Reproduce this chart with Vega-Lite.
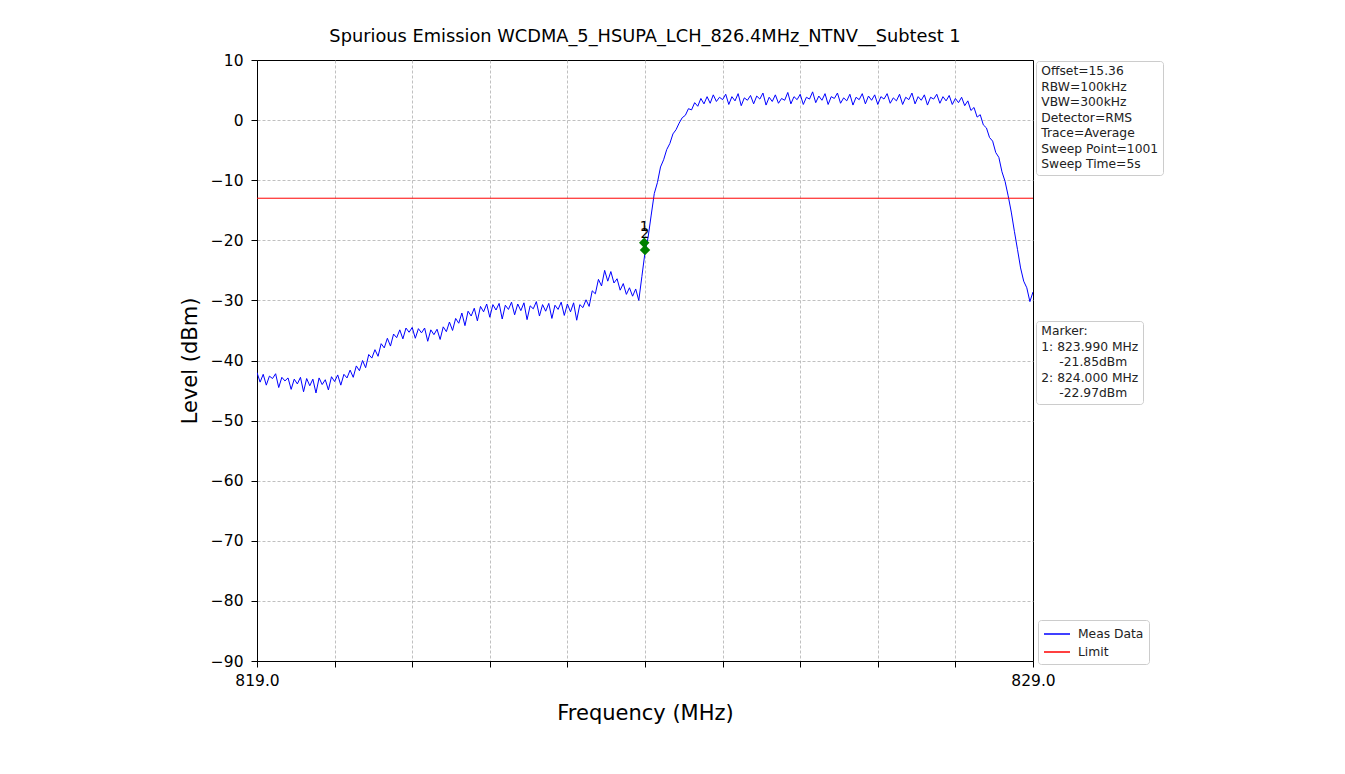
{
  "$schema": "https://vega.github.io/schema/vega-lite/v6.json",
  "width": 776,
  "height": 601,
  "autosize": {"type": "none"},
  "padding": {"left": 257, "top": 60, "right": 312, "bottom": 113},
  "background": "white",
  "title": {"text": "Spurious Emission WCDMA_5_HSUPA_LCH_826.4MHz_NTNV__Subtest 1", "fontSize": 17.8, "fontWeight": "normal", "font": "DejaVu Sans", "color": "black", "offset": 7},
  "config": {
    "font": "DejaVu Sans",
    "view": {"stroke": "black", "strokeWidth": 1},
    "axis": {"labelFont": "DejaVu Sans", "titleFont": "DejaVu Sans", "labelFontSize": 15.5, "titleFontSize": 21, "titleFontWeight": "normal", "labelColor": "black", "titleColor": "black", "tickColor": "black", "domainColor": "black", "tickSize": 6, "grid": true, "gridColor": "#b0b0b0", "gridDash": [3, 2], "gridWidth": 0.8, "labelOverlap": false, "labelFlush": false},
    "legend": {"labelFont": "DejaVu Sans", "labelFontSize": 12.3, "labelColor": "#222", "strokeColor": "#cccccc", "fillColor": "white", "cornerRadius": 3, "padding": 4, "orient": "none"}
  },
  "datasets": {
    "trace": [
      {"f":819.00,"level":-42.0},{"f":819.04,"level":-43.6},{"f":819.08,"level":-42.3},{"f":819.12,"level":-44.1},{"f":819.16,"level":-42.6},
      {"f":819.20,"level":-43.0},{"f":819.24,"level":-42.2},{"f":819.28,"level":-44.5},{"f":819.32,"level":-42.8},{"f":819.36,"level":-43.4},
      {"f":819.40,"level":-42.9},{"f":819.44,"level":-44.8},{"f":819.48,"level":-43.1},{"f":819.52,"level":-43.9},{"f":819.56,"level":-42.8},
      {"f":819.60,"level":-45.2},{"f":819.64,"level":-43.0},{"f":819.68,"level":-44.2},{"f":819.72,"level":-43.1},{"f":819.76,"level":-45.4},
      {"f":819.80,"level":-42.9},{"f":819.84,"level":-44.0},{"f":819.88,"level":-43.2},{"f":819.92,"level":-44.9},{"f":819.96,"level":-42.7},
      {"f":820.00,"level":-43.5},{"f":820.04,"level":-42.4},{"f":820.08,"level":-44.1},{"f":820.12,"level":-42.3},{"f":820.16,"level":-42.9},
      {"f":820.20,"level":-41.6},{"f":820.24,"level":-42.8},{"f":820.28,"level":-40.9},{"f":820.32,"level":-41.7},{"f":820.36,"level":-40.0},
      {"f":820.40,"level":-41.2},{"f":820.44,"level":-39.0},{"f":820.48,"level":-39.6},{"f":820.52,"level":-38.2},{"f":820.56,"level":-39.3},
      {"f":820.60,"level":-37.2},{"f":820.64,"level":-37.9},{"f":820.68,"level":-36.3},{"f":820.72,"level":-37.6},{"f":820.76,"level":-35.6},
      {"f":820.80,"level":-36.2},{"f":820.84,"level":-34.9},{"f":820.88,"level":-36.4},{"f":820.92,"level":-34.6},{"f":820.96,"level":-35.3},
      {"f":821.00,"level":-34.5},{"f":821.04,"level":-36.3},{"f":821.08,"level":-34.7},{"f":821.12,"level":-35.4},{"f":821.16,"level":-34.6},
      {"f":821.20,"level":-36.8},{"f":821.24,"level":-34.9},{"f":821.28,"level":-35.7},{"f":821.32,"level":-34.8},{"f":821.36,"level":-36.5},
      {"f":821.40,"level":-34.4},{"f":821.44,"level":-35.2},{"f":821.48,"level":-33.6},{"f":821.52,"level":-35.0},{"f":821.56,"level":-33.0},
      {"f":821.60,"level":-33.8},{"f":821.64,"level":-32.1},{"f":821.68,"level":-34.2},{"f":821.72,"level":-31.8},{"f":821.76,"level":-32.6},
      {"f":821.80,"level":-31.3},{"f":821.84,"level":-33.4},{"f":821.88,"level":-31.0},{"f":821.92,"level":-31.9},{"f":821.96,"level":-30.6},
      {"f":822.00,"level":-32.8},{"f":822.04,"level":-30.7},{"f":822.08,"level":-31.6},{"f":822.12,"level":-30.5},{"f":822.16,"level":-33.1},
      {"f":822.20,"level":-30.8},{"f":822.24,"level":-31.5},{"f":822.28,"level":-30.3},{"f":822.32,"level":-32.4},{"f":822.36,"level":-30.6},
      {"f":822.40,"level":-31.7},{"f":822.44,"level":-30.4},{"f":822.48,"level":-33.2},{"f":822.52,"level":-30.9},{"f":822.56,"level":-31.4},
      {"f":822.60,"level":-30.2},{"f":822.64,"level":-32.6},{"f":822.68,"level":-30.7},{"f":822.72,"level":-31.8},{"f":822.76,"level":-30.5},
      {"f":822.80,"level":-33.0},{"f":822.84,"level":-30.8},{"f":822.88,"level":-31.5},{"f":822.92,"level":-30.3},{"f":822.96,"level":-32.5},
      {"f":823.00,"level":-30.6},{"f":823.04,"level":-31.9},{"f":823.08,"level":-30.4},{"f":823.12,"level":-33.3},{"f":823.16,"level":-30.7},
      {"f":823.20,"level":-31.2},{"f":823.24,"level":-29.9},{"f":823.28,"level":-31.0},{"f":823.32,"level":-28.4},{"f":823.36,"level":-28.9},
      {"f":823.40,"level":-26.5},{"f":823.44,"level":-27.6},{"f":823.48,"level":-25.0},{"f":823.52,"level":-26.8},{"f":823.56,"level":-25.2},
      {"f":823.60,"level":-27.1},{"f":823.64,"level":-26.4},{"f":823.68,"level":-28.3},{"f":823.72,"level":-27.2},{"f":823.76,"level":-29.0},
      {"f":823.80,"level":-27.9},{"f":823.84,"level":-29.3},{"f":823.88,"level":-28.1},{"f":823.92,"level":-30.0},{"f":823.96,"level":-26.0},
      {"f":824.00,"level":-22.0},{"f":824.04,"level":-19.5},{"f":824.08,"level":-15.8},{"f":824.12,"level":-12.2},{"f":824.16,"level":-10.4},
      {"f":824.20,"level":-7.8},{"f":824.24,"level":-6.6},{"f":824.28,"level":-4.9},{"f":824.32,"level":-3.9},{"f":824.36,"level":-2.3},
      {"f":824.40,"level":-1.6},{"f":824.44,"level":-0.5},{"f":824.48,"level":0.4},{"f":824.52,"level":0.8},{"f":824.56,"level":1.9},
      {"f":824.60,"level":1.7},{"f":824.64,"level":2.9},{"f":824.68,"level":2.3},{"f":824.72,"level":3.6},{"f":824.76,"level":2.7},
      {"f":824.80,"level":3.9},{"f":824.84,"level":2.8},{"f":824.88,"level":4.2},{"f":824.92,"level":3.1},{"f":824.96,"level":3.8},
      {"f":825.00,"level":3.4},{"f":825.04,"level":4.3},{"f":825.08,"level":2.6},{"f":825.12,"level":3.9},{"f":825.16,"level":3.2},
      {"f":825.20,"level":4.4},{"f":825.24,"level":2.4},{"f":825.28,"level":3.7},{"f":825.32,"level":3.3},{"f":825.36,"level":4.1},
      {"f":825.40,"level":2.7},{"f":825.44,"level":4.0},{"f":825.48,"level":3.5},{"f":825.52,"level":4.5},{"f":825.56,"level":2.5},
      {"f":825.60,"level":3.8},{"f":825.64,"level":3.1},{"f":825.68,"level":4.2},{"f":825.72,"level":2.8},{"f":825.76,"level":3.6},
      {"f":825.80,"level":3.3},{"f":825.84,"level":4.6},{"f":825.88,"level":2.7},{"f":825.92,"level":3.9},{"f":825.96,"level":3.4},
      {"f":826.00,"level":4.3},{"f":826.04,"level":2.6},{"f":826.08,"level":3.8},{"f":826.12,"level":3.5},{"f":826.16,"level":4.7},
      {"f":826.20,"level":2.9},{"f":826.24,"level":4.0},{"f":826.28,"level":3.3},{"f":826.32,"level":4.4},{"f":826.36,"level":2.6},
      {"f":826.40,"level":3.9},{"f":826.44,"level":3.6},{"f":826.48,"level":4.5},{"f":826.52,"level":2.8},{"f":826.56,"level":3.7},
      {"f":826.60,"level":3.2},{"f":826.64,"level":4.3},{"f":826.68,"level":2.5},{"f":826.72,"level":3.8},{"f":826.76,"level":3.4},
      {"f":826.80,"level":4.4},{"f":826.84,"level":2.7},{"f":826.88,"level":4.0},{"f":826.92,"level":3.3},{"f":826.96,"level":4.2},
      {"f":827.00,"level":2.6},{"f":827.04,"level":3.9},{"f":827.08,"level":3.5},{"f":827.12,"level":4.4},{"f":827.16,"level":2.8},
      {"f":827.20,"level":3.7},{"f":827.24,"level":3.2},{"f":827.28,"level":4.3},{"f":827.32,"level":2.6},{"f":827.36,"level":3.8},
      {"f":827.40,"level":3.4},{"f":827.44,"level":4.5},{"f":827.48,"level":2.7},{"f":827.52,"level":3.9},{"f":827.56,"level":3.3},
      {"f":827.60,"level":4.2},{"f":827.64,"level":2.5},{"f":827.68,"level":3.8},{"f":827.72,"level":3.5},{"f":827.76,"level":4.3},
      {"f":827.80,"level":2.8},{"f":827.84,"level":3.9},{"f":827.88,"level":3.2},{"f":827.92,"level":4.1},{"f":827.96,"level":2.6},
      {"f":828.00,"level":3.6},{"f":828.04,"level":2.9},{"f":828.08,"level":3.8},{"f":828.12,"level":2.4},{"f":828.16,"level":3.2},
      {"f":828.20,"level":1.6},{"f":828.24,"level":2.1},{"f":828.28,"level":0.5},{"f":828.32,"level":0.9},{"f":828.36,"level":-0.8},
      {"f":828.40,"level":-1.3},{"f":828.44,"level":-2.9},{"f":828.48,"level":-3.5},{"f":828.52,"level":-5.4},{"f":828.56,"level":-6.2},
      {"f":828.60,"level":-8.6},{"f":828.64,"level":-10.2},{"f":828.68,"level":-12.6},{"f":828.72,"level":-15.3},{"f":828.76,"level":-18.5},
      {"f":828.80,"level":-21.5},{"f":828.84,"level":-24.6},{"f":828.88,"level":-26.8},{"f":828.92,"level":-27.9},{"f":828.96,"level":-30.2},
      {"f":829.00,"level":-28.6}
    ],
    "limit": [{"limit": -13}],
    "markers": [{"id": "1", "f": 823.99, "level": -20.4}, {"id": "2", "f": 824.0, "level": -21.6}],
    "info": [{"line": "Offset=15.36"}, {"line": "RBW=100kHz"}, {"line": "VBW=300kHz"}, {"line": "Detector=RMS"}, {"line": "Trace=Average"}, {"line": "Sweep Point=1001"}, {"line": "Sweep Time=5s"}],
    "markerinfo": [{"line": "Marker:"}, {"line": "1: 823.990 MHz"}, {"line": "\u2800\u2800-21.85dBm"}, {"line": "2: 824.000 MHz"}, {"line": "\u2800\u2800-22.97dBm"}]
  },
  "layer": [
    {
      "data": {"name": "trace"},
      "mark": {"type": "line", "strokeWidth": 1, "clip": true},
      "encoding": {
        "x": {"field": "f", "type": "quantitative", "scale": {"domain": [819, 829], "nice": false, "zero": false},
          "axis": {"values": [819, 820, 821, 822, 823, 824, 825, 826, 827, 828, 829], "labelExpr": "datum.value == 819 || datum.value == 829 ? format(datum.value, '.1f') : ''", "title": "Frequency (MHz)", "titlePadding": 14, "labelPadding": 6,
            "gridOpacity": {"condition": {"test": "datum.value == 819 || datum.value == 829", "value": 0}, "value": 1}}},
        "y": {"field": "level", "type": "quantitative", "scale": {"domain": [-90, 10], "nice": false, "zero": false},
          "axis": {"values": [-90, -80, -70, -60, -50, -40, -30, -20, -10, 0, 10], "labelExpr": "replace(format(datum.value, 'd'), '-', '\u2212')", "title": "Level (dBm)", "titlePadding": 10, "labelPadding": 8,
            "gridOpacity": {"condition": {"test": "datum.value == 10 || datum.value == -90", "value": 0}, "value": 1}}},
        "color": {"datum": "Meas Data", "type": "nominal", "scale": {"domain": ["Meas Data", "Limit"], "range": ["#0000ff", "#ff0000"]},
          "legend": {"title": null, "legendX": 781, "legendY": 560, "symbolType": "M-1,0H2.25", "symbolSize": 256, "symbolStrokeWidth": 1.5, "labelOffset": 17, "rowPadding": 2, "padding": 5}}
      }
    },
    {
      "data": {"name": "limit"},
      "mark": {"type": "rule", "strokeWidth": 1},
      "encoding": {"y": {"field": "limit", "type": "quantitative"}, "color": {"datum": "Limit", "type": "nominal"}}
    },
    {
      "data": {"name": "markers"},
      "mark": {"type": "point", "shape": "diamond", "filled": true, "size": 110, "color": "#008000", "opacity": 1},
      "encoding": {"x": {"field": "f", "type": "quantitative"}, "y": {"field": "level", "type": "quantitative"}}
    },
    {
      "data": {"name": "markers"},
      "mark": {"type": "text", "dy": -16, "fontSize": 14, "color": "black", "font": "DejaVu Sans"},
      "encoding": {"x": {"field": "f", "type": "quantitative"}, "y": {"field": "level", "type": "quantitative"}, "text": {"field": "id"}}
    },
    {
      "data": {"name": "info"},
      "mark": {"type": "point", "opacity": 0},
      "encoding": {"shape": {"field": "line", "type": "nominal",
        "scale": {"domain": ["Offset=15.36", "RBW=100kHz", "VBW=300kHz", "Detector=RMS", "Trace=Average", "Sweep Point=1001", "Sweep Time=5s"], "range": ["circle", "circle", "circle", "circle", "circle", "circle", "circle"]},
        "legend": {"title": null, "legendX": 779, "legendY": 1, "symbolSize": 0, "symbolOpacity": 0, "symbolStrokeWidth": 0, "labelOffset": -11, "rowPadding": 2.5}}}
    },
    {
      "data": {"name": "markerinfo"},
      "mark": {"type": "point", "opacity": 0},
      "encoding": {"fill": {"field": "line", "type": "nominal",
        "scale": {"domain": ["Marker:", "1: 823.990 MHz", "\u2800\u2800-21.85dBm", "2: 824.000 MHz", "\u2800\u2800-22.97dBm"], "range": ["white", "white", "white", "white", "white"]},
        "legend": {"title": null, "legendX": 779, "legendY": 261, "symbolSize": 0, "symbolOpacity": 0, "symbolStrokeWidth": 0, "labelOffset": -11, "rowPadding": 2.5}}}
    }
  ]
}
